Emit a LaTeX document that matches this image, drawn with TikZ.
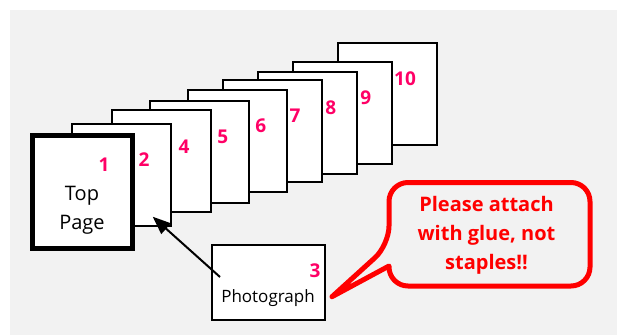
\documentclass[tikz,border=0pt]{standalone}
\usepackage{fontspec}
\setmainfont{Open Sans}
\usetikzlibrary{arrows.meta}
\definecolor{bggray}{HTML}{F2F2F2}
\definecolor{numpink}{HTML}{FF0066}
\definecolor{callred}{HTML}{FF0000}
\begin{document}
\begin{tikzpicture}[x=1pt,y=-1pt,
  pagebox/.style={draw=black,fill=white,line width=2pt,minimum width=99pt,minimum height=102pt,anchor=north west,inner sep=0pt,outer sep=0pt},
  topbox/.style={draw=black,fill=white,line width=5pt,minimum width=100pt,minimum height=113pt,anchor=north west,inner sep=0pt,outer sep=0pt},
  pnum/.style={text=numpink,font=\fontsize{19}{19}\selectfont\bfseries,inner sep=0pt},
  plabel/.style={text=black,inner sep=0pt,anchor=base},
  callout/.style={draw=callred,line width=5pt,line join=round},
  arrowline/.style={draw=black,line width=2pt,-{Triangle[length=18pt,width=14pt]}}
]
\useasboundingbox (0,0) rectangle (617,335);
\fill[bggray] (10,10) rectangle (617,335);
% pages, back to front
\node[pagebox] (p10) at (337.5,43) {};
\node[pagebox] (p9) at (293,62) {};
\node[pagebox] (p8) at (258,71.7) {};
\node[pagebox] (p7) at (222.5,80.3) {};
\node[pagebox] (p6) at (187.5,90.3) {};
\node[pagebox] (p5) at (149.5,101) {};
\node[pagebox] (p4) at (112,109.5) {};
\node[pagebox] (p2) at (71.5,124) {};
\node[topbox] (p1) at (32.5,135.5) {};
% numbers
\node[pnum] (n1) at (104,165) {1};
\node[pnum] (n2) at (144,160) {2};
\node[pnum] (n4) at (184,147) {4};
\node[pnum] (n5) at (222.7,137) {5};
\node[pnum] (n6) at (260.7,125.7) {6};
\node[pnum] (n7) at (295,116) {7};
\node[pnum] (n8) at (330.7,108) {8};
\node[pnum] (n9) at (365.7,98) {9};
\node[pnum] (n10) at (405,79) {10};
% top page text
\node[plabel,font=\fontsize{20}{20}\selectfont] (ttop) at (82,200) {Top};
\node[plabel,font=\fontsize{20}{20}\selectfont] (tpage) at (82,229) {Page};
% photograph
\node[draw=black,fill=white,line width=2pt,minimum width=113pt,minimum height=74.7pt,anchor=north west,inner sep=0pt,outer sep=0pt] (photo) at (211.7,245) {};
\node[pnum] (n3) at (315,270.7) {3};
\node[plabel,font=\fontsize{17}{17}\selectfont] (tphoto) at (268,302.7) {Photograph};
\coordinate (astart) at (220,277);
\coordinate (atip) at (152.7,216.7);
\draw[arrowline] (astart) -- (atip);
% callout
\coordinate (wtop) at (389,245);
\coordinate (wbot) at (389,266);
\coordinate (wtip) at (332,296.7);
\path[callout] (wbot) [rounded corners=19pt] -- (389,286) -- (590,286) -- (590,182.5) -- (389,182.5) -- (wtop) [sharp corners] -- (wtip) -- cycle;
\node[text=callred,font=\fontsize{20}{29}\selectfont\bfseries,align=center,inner sep=0pt,anchor=base] (msg) at (486.5,269.3) {Please attach\\with glue, not\\staples!!};
\end{tikzpicture}
\end{document}
